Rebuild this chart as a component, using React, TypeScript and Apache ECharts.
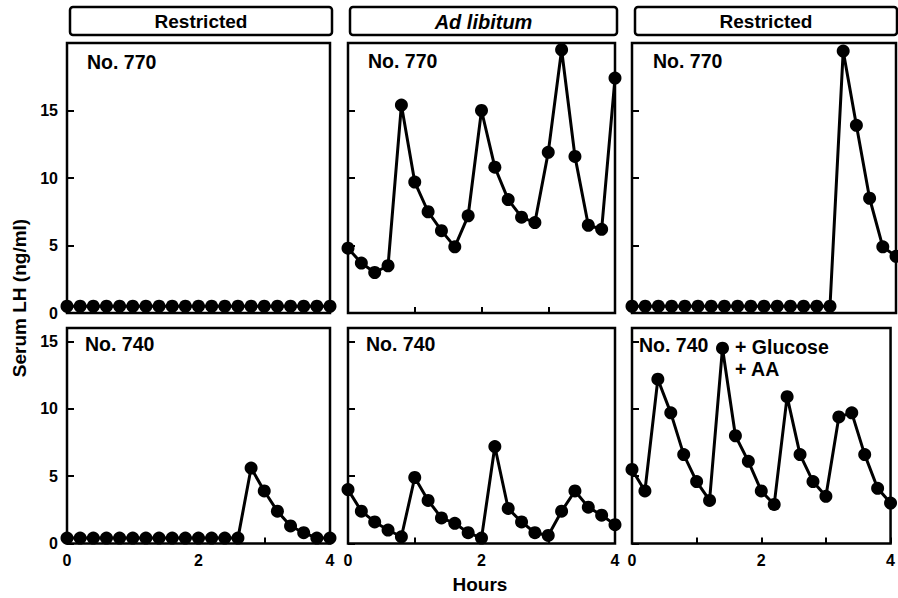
import React, { useEffect, useRef } from "react";
import * as echarts from "echarts";

// Sampling times (hours)
const HOURS = [0, 0.2, 0.4, 0.6, 0.8, 1.0, 1.2, 1.4, 1.6, 1.8, 2.0, 2.2, 2.4, 2.6, 2.8, 3.0, 3.2, 3.4, 3.6, 3.8, 4.0];

// Serum LH (ng/ml) — No. 770
const LH_770_RESTRICTED_1 = [0.5, 0.5, 0.5, 0.5, 0.5, 0.5, 0.5, 0.5, 0.5, 0.5, 0.5, 0.5, 0.5, 0.5, 0.5, 0.5, 0.5, 0.5, 0.5, 0.5, 0.5];
const LH_770_ADLIB = [4.8, 3.7, 3.0, 3.5, 15.4, 9.7, 7.5, 6.1, 4.9, 7.2, 15.0, 10.8, 8.4, 7.1, 6.7, 11.9, 19.5, 11.6, 6.5, 6.2, 17.4];
const LH_770_RESTRICTED_2 = [0.5, 0.5, 0.5, 0.5, 0.5, 0.5, 0.5, 0.5, 0.5, 0.5, 0.5, 0.5, 0.5, 0.5, 0.5, 0.5, 19.4, 13.9, 8.5, 4.9, 4.2];

// Serum LH (ng/ml) — No. 740
const LH_740_RESTRICTED = [0.4, 0.4, 0.4, 0.4, 0.4, 0.4, 0.4, 0.4, 0.4, 0.4, 0.4, 0.4, 0.4, 0.4, 5.6, 3.9, 2.4, 1.3, 0.8, 0.4, 0.4];
const LH_740_ADLIB = [4.0, 2.4, 1.6, 1.0, 0.5, 4.9, 3.2, 1.9, 1.5, 0.8, 0.4, 7.2, 2.6, 1.6, 0.8, 0.6, 2.4, 3.9, 2.7, 2.1, 1.4];
const LH_740_GLUCOSE_AA = [5.5, 3.9, 12.2, 9.7, 6.6, 4.6, 3.2, 14.5, 8.0, 6.1, 3.9, 2.9, 10.9, 6.6, 4.6, 3.5, 9.4, 9.7, 6.6, 4.1, 3.0];

const PANEL_VALUES = [LH_770_RESTRICTED_1, LH_770_ADLIB, LH_770_RESTRICTED_2, LH_740_RESTRICTED, LH_740_ADLIB, LH_740_GLUCOSE_AA];

const HEADERS = ["Restricted", "Ad libitum", "Restricted"];
const PANEL_LABELS = ["No. 770", "No. 770", "No. 770", "No. 740", "No. 740", "No. 740"];
const TREATMENT_LINES = ["+ Glucose", "+ AA"];
const Y_MAX = [20, 16];
const X_TICK_LABELS = [0, 2, 4];
const Y_TICK_LABELS = [0, 5, 10, 15];

const FONT = "Liberation Sans";

export default function App() {
  const ref = useRef<HTMLDivElement>(null);

  useEffect(() => {
    if (!ref.current) return;
    const chart = echarts.init(ref.current, null, { renderer: "svg" });

    const cols = [
      { left: 67, width: 263 },
      { left: 348, width: 267 },
      { left: 632, width: 264 },
    ];
    const rows = [
      { top: 43, height: 270 },
      { top: 328, height: 215.5 },
    ];

    const grids: any[] = [];
    const xAxes: any[] = [];
    const yAxes: any[] = [];
    const series: any[] = [];

    for (let r = 0; r < 2; r++) {
      for (let c = 0; c < 3; c++) {
        const i = r * 3 + c;
        grids.push({
          left: cols[c].left,
          width: cols[c].width,
          top: rows[r].top,
          height: rows[r].height,
          show: true,
          borderColor: "#000",
          borderWidth: 2.5,
          backgroundColor: "#fff",
          containLabel: false,
        });
        xAxes.push({
          type: "value",
          gridIndex: i,
          min: 0,
          max: 4,
          interval: 1,
          axisLine: { show: false },
          axisTick: { show: true, inside: true, length: 6, lineStyle: { color: "#000", width: 2 } },
          splitLine: { show: false },
          axisLabel: {
            show: r === 1,
            margin: 9,
            color: "#000",
            fontFamily: FONT,
            fontSize: 16,
            fontWeight: "bold",
            formatter: (v: number) => (X_TICK_LABELS.includes(v) ? String(v) : ""),
          },
        });
        yAxes.push({
          type: "value",
          gridIndex: i,
          min: 0,
          max: Y_MAX[r],
          interval: 5,
          axisLine: { show: false },
          axisTick: { show: true, inside: true, length: 7, lineStyle: { color: "#000", width: 2 } },
          splitLine: { show: false },
          axisLabel: {
            show: c === 0,
            margin: 9,
            color: "#000",
            fontFamily: FONT,
            fontSize: 16,
            fontWeight: "bold",
            formatter: (v: number) => (Y_TICK_LABELS.includes(v) ? String(v) : ""),
          },
        });
        series.push({
          type: "line",
          xAxisIndex: i,
          yAxisIndex: i,
          data: HOURS.map((h, k) => [h, PANEL_VALUES[i][k]]),
          symbol: "circle",
          symbolSize: 13,
          showSymbol: true,
          clip: false,
          lineStyle: { color: "#000", width: 3 },
          itemStyle: { color: "#000", borderWidth: 0 },
          z: 3,
        });
      }
    }

    const headerBoxes = [
      { x: 70, w: 262 },
      { x: 350, w: 267 },
      { x: 635, w: 262 },
    ];

    const graphics: any[] = [];
    headerBoxes.forEach((b, c) => {
      graphics.push({
        type: "rect",
        shape: { x: b.x, y: 7, width: b.w, height: 28, r: 3 },
        style: { fill: "#fff", stroke: "#000", lineWidth: 2.5 },
        z: 10,
      });
      graphics.push({
        type: "text",
        x: b.x + b.w / 2,
        y: 21.5,
        style: {
          text: HEADERS[c],
          fill: "#000",
          font: `${c === 1 ? "italic " : ""}bold ${c === 1 ? 20 : 19}px "${FONT}"`,
          align: "center",
          verticalAlign: "middle",
        },
        z: 11,
      });
    });

    const labelPos = [
      { x: 87, y: 62 },
      { x: 368, y: 61 },
      { x: 653, y: 61 },
      { x: 85, y: 344 },
      { x: 366, y: 344 },
      { x: 639, y: 345 },
    ];
    labelPos.forEach((p, i) => {
      graphics.push({
        type: "text",
        x: p.x,
        y: p.y,
        style: {
          text: PANEL_LABELS[i],
          fill: "#000",
          font: `bold 19.5px "${FONT}"`,
          align: "left",
          verticalAlign: "middle",
        },
        z: 11,
      });
    });
    TREATMENT_LINES.forEach((t, k) => {
      graphics.push({
        type: "text",
        x: 735,
        y: 347 + k * 22,
        style: { text: t, fill: "#000", font: `bold 19.5px "${FONT}"`, align: "left", verticalAlign: "middle" },
        z: 11,
      });
    });
    graphics.push({
      type: "text",
      x: 19,
      y: 298,
      rotation: Math.PI / 2,
      style: { text: "Serum LH (ng/ml)", fill: "#000", font: `bold 19px "${FONT}"`, align: "center", verticalAlign: "middle" },
      z: 11,
    });
    graphics.push({
      type: "text",
      x: 480,
      y: 584,
      style: { text: "Hours", fill: "#000", font: `bold 19px "${FONT}"`, align: "center", verticalAlign: "middle" },
      z: 11,
    });

    chart.setOption({
      animation: false,
      backgroundColor: "#fff",
      grid: grids,
      xAxis: xAxes,
      yAxis: yAxes,
      series,
      graphic: graphics,
    });

    return () => chart.dispose();
  }, []);

  return (
    <div
      ref={ref}
      style={{ position: "fixed", left: 0, top: 0, width: 898, height: 598, background: "#fff" }}
    />
  );
}
